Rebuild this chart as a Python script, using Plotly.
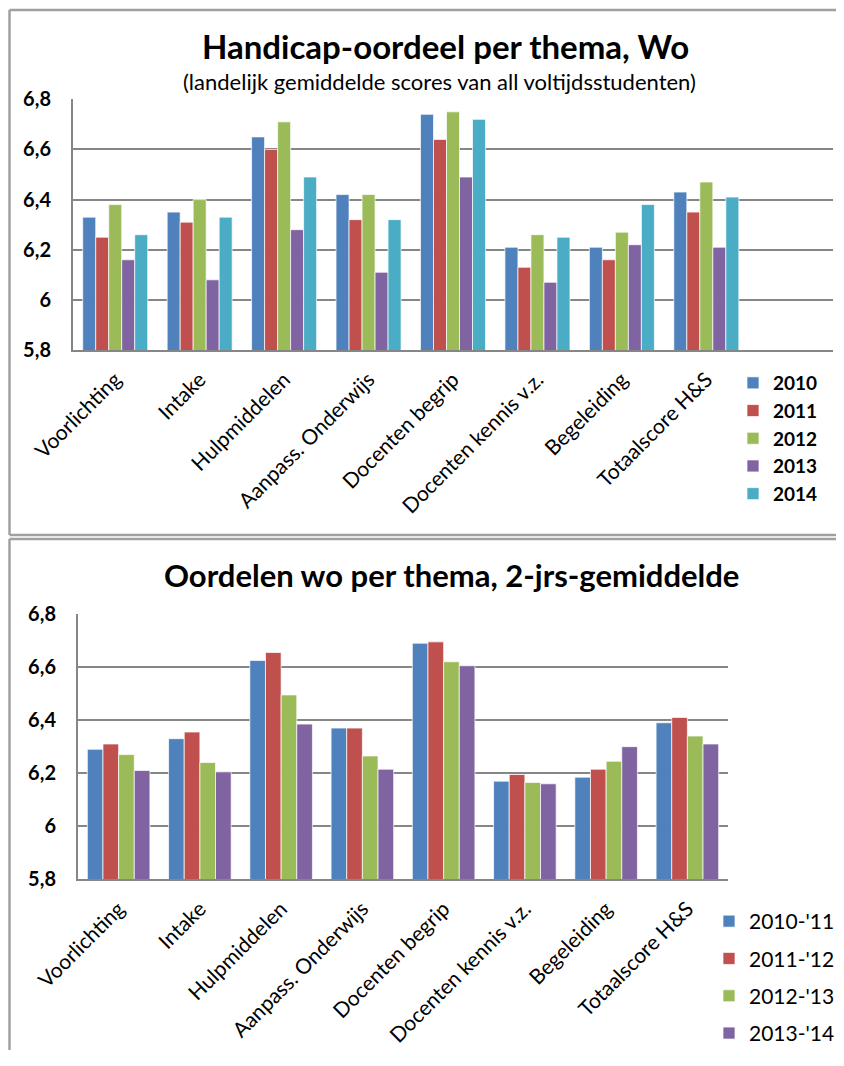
import plotly.graph_objects as go

# page body has an 8px margin; keep the figure inside the 844x1066 window without scrollbars
OFF = 8
W, H = 844 - 2 * OFF, 1066 - 2 * OFF - 8

# ---------------- data ----------------
categories_top = ["Voorlichting", "Intake", "Hulpmiddelen", "Aanpass. Onderwijs",
                  "Docenten begrip", "Docenten kennis v.z.", "Begeleiding",
                  "Totaalscore H&S", " "]
years_top = ["2010", "2011", "2012", "2013", "2014"]
v2010 = [6.33, 6.35, 6.65, 6.42, 6.74, 6.21, 6.21, 6.43, None]
v2011 = [6.25, 6.31, 6.60, 6.32, 6.64, 6.13, 6.16, 6.35, None]
v2012 = [6.38, 6.40, 6.71, 6.42, 6.75, 6.26, 6.27, 6.47, None]
v2013 = [6.16, 6.08, 6.28, 6.11, 6.49, 6.07, 6.22, 6.21, None]
v2014 = [6.26, 6.33, 6.49, 6.32, 6.72, 6.25, 6.38, 6.41, None]
top_values = [v2010, v2011, v2012, v2013, v2014]

categories_bot = ["Voorlichting", "Intake", "Hulpmiddelen", "Aanpass. Onderwijs",
                  "Docenten begrip", "Docenten kennis v.z.", "Begeleiding",
                  "Totaalscore H&S"]
periods_bot = ["2010-'11", "2011-'12", "2012-'13", "2013-'14"]
p1011 = [6.29, 6.33, 6.625, 6.37, 6.69, 6.17, 6.185, 6.39]
p1112 = [6.31, 6.355, 6.655, 6.37, 6.695, 6.195, 6.215, 6.41]
p1213 = [6.27, 6.24, 6.495, 6.265, 6.62, 6.165, 6.245, 6.34]
p1314 = [6.21, 6.205, 6.385, 6.215, 6.605, 6.16, 6.30, 6.31]
bot_values = [p1011, p1112, p1213, p1314]

tick_vals = [5.8, 6.0, 6.2, 6.4, 6.6, 6.8]
tick_text = ["5,8", "6", "6,2", "6,4", "6,6", "6,8"]

colors = ["#4F81BD", "#C0504D", "#9BBB59", "#8064A2", "#4BACC6"]

FONT = "Lato, 'Open Sans', sans-serif"

fig = go.Figure()

for i, (name, vals) in enumerate(zip(years_top, top_values)):
    fig.add_trace(go.Bar(
        x=categories_top, y=vals, name=name,
        marker=dict(color=colors[i], line=dict(color="rgba(255,255,255,0.7)", width=1)),
        xaxis="x", yaxis="y", legend="legend",
    ))

for i, (name, vals) in enumerate(zip(periods_bot, bot_values)):
    fig.add_trace(go.Bar(
        x=categories_bot, y=vals, name=name,
        marker=dict(color=colors[i], line=dict(color="rgba(255,255,255,0.7)", width=1)),
        xaxis="x2", yaxis="y2", legend="legend2", legendgroup="b" + name,
    ))


def px_x(px):
    return (px - OFF) / W


def px_y(py):
    return 1 - (py - OFF) / H


grid = "#868686"

yaxis_common = dict(
    range=[5.8, 6.8], tickvals=tick_vals, ticktext=tick_text,
    showgrid=True, gridcolor=grid, gridwidth=2,
    showline=True, linecolor=grid, linewidth=2,
    ticks="outside", ticklen=16, tickcolor="rgba(0,0,0,0)",
    tickfont=dict(family=FONT, size=20, color="#000", weight="bold"),
    zeroline=False, fixedrange=True, automargin=False,
)
xaxis_common = dict(
    type="category", showgrid=False,
    showline=True, linecolor=grid, linewidth=2,
    tickangle=-45, ticks="outside", ticklen=7, tickcolor="rgba(0,0,0,0)",
    tickfont=dict(family=FONT, size=21, color="#000"),
    fixedrange=True, automargin=False,
)

frame = dict(color="#a0a0a0", width=2.5)


def hline(y, x0, x1):
    return dict(type="line", xref="paper", yref="paper",
                x0=px_x(x0), x1=px_x(x1), y0=px_y(y), y1=px_y(y), line=frame, layer="below")


def vline(x, y0, y1):
    return dict(type="line", xref="paper", yref="paper",
                x0=px_x(x), x1=px_x(x), y0=px_y(y0), y1=px_y(y1), line=frame, layer="below")


fig.update_layout(
    template="none",
    width=W, height=H, autosize=False,
    margin=dict(l=0, r=0, t=0, b=0, autoexpand=False),
    paper_bgcolor="white", plot_bgcolor="white",
    barmode="group", bargap=0.23, bargroupgap=0,
    showlegend=True,
    xaxis=dict(domain=[px_x(73), px_x(833)], anchor="y", **xaxis_common),
    yaxis=dict(domain=[px_y(350), px_y(99.3)], anchor="x", **yaxis_common),
    xaxis2=dict(domain=[px_x(78), px_x(728)], anchor="y2", **xaxis_common),
    yaxis2=dict(domain=[px_y(879.3), px_y(614)], anchor="x2", **yaxis_common),
    legend=dict(
        xref="container", yref="container",
        x=px_x(733), y=px_y(364), xanchor="left", yanchor="top",
        font=dict(family=FONT, size=19, color="#000", weight="bold"),
        bgcolor="rgba(0,0,0,0)", borderwidth=0, itemclick=False,
    ),
    legend2=dict(
        xref="container", yref="container",
        x=px_x(709), y=px_y(901), xanchor="left", yanchor="top",
        font=dict(family=FONT, size=21, color="#000"),
        tracegroupgap=7, bgcolor="rgba(0,0,0,0)", borderwidth=0, itemclick=False,
    ),
    annotations=[
        dict(text="<b>Handicap-oordeel per thema, Wo</b>", x=px_x(445), y=px_y(46),
             xref="paper", yref="paper", showarrow=False, xanchor="center", yanchor="middle",
             font=dict(family=FONT, size=33, color="#000")),
        dict(text="(landelijk gemiddelde scores van all voltijdsstudenten)", x=px_x(439), y=px_y(81),
             xref="paper", yref="paper", showarrow=False, xanchor="center", yanchor="middle",
             font=dict(family=FONT, size=22, color="#000")),
        dict(text="<b>Oordelen wo per thema, 2-jrs-gemiddelde</b>", x=px_x(451), y=px_y(575),
             xref="paper", yref="paper", showarrow=False, xanchor="center", yanchor="middle",
             font=dict(family=FONT, size=31, color="#000")),
    ],
    shapes=[
        hline(10, 9.5, 843), vline(9.5, 10, 535), hline(535, 9.5, 843),
        hline(539, 9.5, 843), vline(9.5, 539, 1058),
    ],
)

fig.write_html("out.html")
